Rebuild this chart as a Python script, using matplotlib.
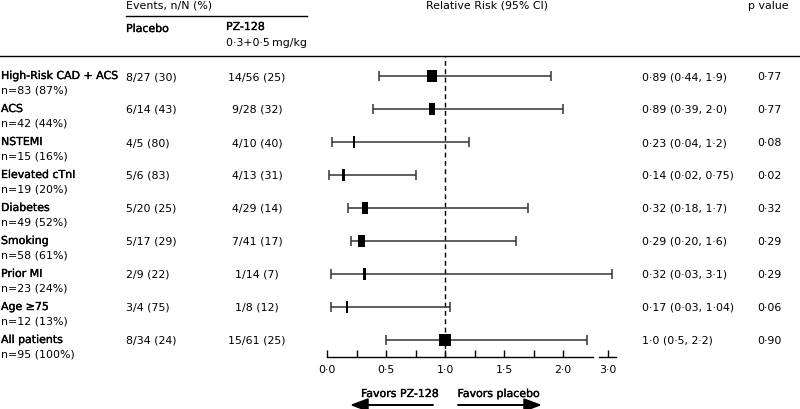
import matplotlib
matplotlib.use('Agg')
import matplotlib.pyplot as plt
import matplotlib.transforms as mtransforms
import matplotlib.patheffects as pe
from matplotlib.lines import Line2D
import numpy as np

# subgroup data
groups = ['High-Risk CAD + ACS', 'ACS', 'NSTEMI', 'Elevated cTnI', 'Diabetes',
          'Smoking', 'Prior MI', 'Age \u226575', 'All patients']
n_pat = [83, 42, 15, 19, 49, 58, 23, 12, 95]
n_pct = [87, 44, 16, 20, 52, 61, 24, 13, 100]
placebo = ['8/27 (30)', '6/14 (43)', '4/5 (80)', '5/6 (83)', '5/20 (25)',
           '5/17 (29)', '2/9 (22)', '3/4 (75)', '8/34 (24)']
pz128 = ['14/56 (25)', '9/28 (32)', '4/10 (40)', '4/13 (31)', '4/29 (14)',
         '7/41 (17)', '1/14 (7)', '1/8 (12)', '15/61 (25)']
rr = [0.89, 0.89, 0.23, 0.14, 0.32, 0.29, 0.32, 0.17, 1.0]
ci_lo = [0.44, 0.39, 0.04, 0.02, 0.18, 0.20, 0.03, 0.03, 0.5]
ci_hi = [1.9, 2.0, 1.2, 0.75, 1.7, 1.6, 3.1, 1.04, 2.2]
rr_text = ['0\u00b789 (0\u00b744, 1\u00b79)', '0\u00b789 (0\u00b739, 2\u00b70)',
           '0\u00b723 (0\u00b704, 1\u00b72)', '0\u00b714 (0\u00b702, 0\u00b775)',
           '0\u00b732 (0\u00b718, 1\u00b77)', '0\u00b729 (0\u00b720, 1\u00b76)',
           '0\u00b732 (0\u00b703, 3\u00b71)', '0\u00b717 (0\u00b703, 1\u00b704)',
           '1\u00b70 (0\u00b75, 2\u00b72)']
p_text = ['0\u00b777', '0\u00b777', '0\u00b708', '0\u00b702', '0\u00b732',
          '0\u00b729', '0\u00b729', '0\u00b706', '0\u00b790']
xticks = [0, 0.5, 1.0, 1.5, 2.0, 3.0]
xtick_labels = ['0\u00b70', '0\u00b75', '1\u00b70', '1\u00b75', '2\u00b70', '3\u00b70']

W, H = 800, 410
FS = 7.9
plt.rcParams['font.family'] = ['DejaVu Sans']
semi = [pe.withStroke(linewidth=0.25, foreground='black')]


# broken x axis: linear to 2.25, compressed gap, then 3.0 region
def fwd(x):
    x = np.asarray(x, dtype=float)
    return np.where(x <= 2.25, x,
                    np.where(x <= 2.75, 2.25 + (x - 2.25) * 0.085,
                             2.2925 + (x - 2.75) * 0.35))


def inv(y):
    y = np.asarray(y, dtype=float)
    return np.where(y <= 2.25, y,
                    np.where(y <= 2.2925, 2.25 + (y - 2.25) / 0.085,
                             2.75 + (y - 2.2925) / 0.35))


fig = plt.figure(figsize=(W / 100, H / 100), dpi=100)

px_unit = 118.0
x0 = 327.0
xmax = 3.5
ax_w = float(fwd(xmax)) * px_unit
row_top, row_step = 77.0, 33.0
y_top, y_bot = 57.0, 358.0
ax = fig.add_axes([x0 / W, 1 - y_bot / H, ax_w / W, (y_bot - y_top) / H])
ax.set_xscale('function', functions=(fwd, inv))
ax.set_xlim(0, xmax)
ax.set_ylim((y_bot - row_top) / row_step, (y_top - row_top) / row_step)

rows = np.arange(len(groups))
ax.errorbar(rr, rows, xerr=[np.array(rr) - np.array(ci_lo), np.array(ci_hi) - np.array(rr)],
            fmt='none', ecolor='#333333', elinewidth=1.1, capsize=3.3, capthick=1.1)
# squares sized by number of patients (width in px ~ n/8)
w_data = np.maximum(2.2, np.array(n_pat) / 8.0) / px_unit
ax.barh(rows, w_data, left=np.array(rr) - w_data / 2, height=0.37, color='black', zorder=3)

ax.axvline(1.0, color='black', lw=1.0, ls=(0, (3.5, 2.5)), zorder=1)

for s in ['top', 'right', 'left']:
    ax.spines[s].set_visible(False)
ax.spines['bottom'].set_bounds(0, 2.25)
ax.spines['bottom'].set_linewidth(1.0)
ax.plot([2.79, 3.2], [ax.get_ylim()[0]] * 2, color='black', lw=1.0, clip_on=False)
ax.set_yticks([])
ax.set_xticks(xticks)
ax.set_xticklabels(xtick_labels, fontsize=FS)
ax.set_xticks([0.25, 0.75, 1.25, 1.75], minor=True)
ax.tick_params(axis='x', which='both', direction='in', length=5, width=1.0, pad=5)

# table text
tr = mtransforms.blended_transform_factory(fig.transFigure, ax.transData)
for i in rows:
    ax.text(1 / W, i, groups[i], transform=tr, fontsize=FS, path_effects=semi,
            va='center', ha='left')
    ax.text(1 / W, i + 0.42, 'n=%d (%d%%)' % (n_pat[i], n_pct[i]), transform=tr,
            fontsize=FS, va='center', ha='left')
    ax.text(126 / W, i, placebo[i], transform=tr, fontsize=FS, va='center', ha='left')
    ax.text(257 / W, i, pz128[i], transform=tr, fontsize=FS, va='center', ha='center')
    ax.text(642 / W, i, rr_text[i], transform=tr, fontsize=FS, va='center', ha='left')
    ax.text(757 / W, i, p_text[i], transform=tr, fontsize=FS, va='center', ha='left')


def ftext(x, y, s, **kw):
    fig.text(x / W, 1 - y / H, s, fontsize=FS, va='center', **kw)


ftext(126, 6, 'Events, n/N (%)')
ftext(126, 30, 'Placebo', path_effects=semi)
ftext(226, 28, 'PZ-128', path_effects=semi)
ftext(226, 43, '0\u00b73+0\u00b75\u2009mg/kg')
ftext(487, 6, 'Relative Risk (95% CI)', ha='center')
ftext(768, 6, 'p value', ha='center')
ftext(400, 395, 'Favors PZ-128', ha='center', path_effects=semi)
ftext(499, 395, 'Favors placebo', ha='center', path_effects=semi)

fig.add_artist(Line2D([126 / W, 307 / W], [1 - 17 / H] * 2, color='black', lw=1.0))
fig.add_artist(Line2D([0, 1], [1 - 57 / H] * 2, color='black', lw=1.0))

arrow = dict(arrowstyle='-|>,head_length=1.2,head_width=0.45', lw=1.4,
             color='black', mutation_scale=9, shrinkA=0, shrinkB=0)
ax.annotate('', xy=(350, H - 406), xytext=(433, H - 406), xycoords='figure pixels',
            textcoords='figure pixels', arrowprops=arrow)
ax.annotate('', xy=(542, H - 406), xytext=(458, H - 406), xycoords='figure pixels',
            textcoords='figure pixels', arrowprops=arrow)

fig.savefig('out.png', dpi=100)
